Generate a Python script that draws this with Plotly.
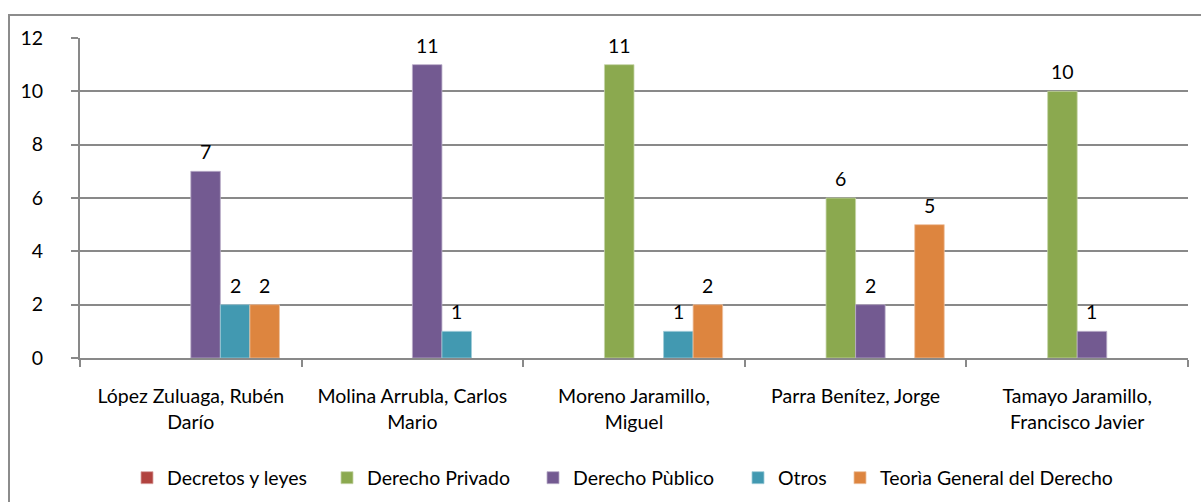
import plotly.graph_objects as go

categories = ["López Zuluaga, Rubén<br>Darío",
              "Molina Arrubla, Carlos<br>Mario",
              "Moreno Jaramillo,<br>Miguel",
              "Parra Benítez, Jorge",
              "Tamayo Jaramillo,<br>Francisco Javier"]

series_names = ["Decretos y leyes", "Derecho Privado", "Derecho Pùblico",
                "Otros", "Teorìa General del Derecho"]
decretos = [None, None, None, None, None]
privado = [None, None, 11, 6, 10]
publico = [7, 11, None, 2, 1]
otros = [2, 1, 1, None, None]
teoria = [2, None, 2, 5, None]
series_values = [decretos, privado, publico, otros, teoria]
colors = ["#B1433F", "#8BA94F", "#735A91", "#4299B1", "#DD853F"]
edge_colors = ["#D9A3A1", "#C5D4A7", "#B9ACC8", "#A0CCD8", "#EEC29F"]

FONT = "Lato, Carlito, Calibri, sans-serif"
FS = 19.5
W = 1 / 7.5          # bar width (gap width 150%, 6 slots)
slot_index = [1, 2, 3, 4, 5]   # slot 0 is an empty series

# legend text start positions (px) in the reference
legend_text_px = [164, 364, 570, 775, 877]
PL, PR, PT, PB = 80, 13, 38, 144
PW, PH = 1201 - PL - PR, 502 - PT - PB

fig = go.Figure()
for k, (name, vals) in enumerate(zip(series_names, series_values)):
    lg = "legend" if k == 0 else f"legend{k + 1}"
    fig.add_trace(go.Bar(
        x=categories, y=vals, name=name, legend=lg,
        marker=dict(color=colors[k], line=dict(color=edge_colors[k], width=0.8)),
        width=W, offset=(slot_index[k] - 3) * W,
    ))
    for i, v in enumerate(vals):
        if v is not None:
            fig.add_annotation(
                x=i + (slot_index[k] - 3) * W + W / 2, y=v, xref="x", yref="y",
                text=str(v), showarrow=False, yanchor="bottom", yshift=6,
                font=dict(family=FONT, size=FS, color="#000000"))
    fig.update_layout({lg: dict(
        orientation="h", x=(legend_text_px[k] - 37 - PL) / PW, xanchor="left",
        y=(PT + PH - 478) / PH, yanchor="middle",
        font=dict(family=FONT, size=FS, color="#000000"),
        itemclick=False, bgcolor="rgba(0,0,0,0)")})

grid = "#898989"
fig.update_layout(
    width=1201, height=502,
    margin=dict(l=PL, r=PR, t=PT, b=PB, autoexpand=False),
    paper_bgcolor="white", plot_bgcolor="white",
    barmode="overlay",
    font=dict(family=FONT, size=FS, color="#000000"),
    showlegend=True,
    xaxis=dict(type="category", showline=True, linecolor=grid, linewidth=2,
               ticks="outside", tickson="boundaries", ticklen=7, tickcolor=grid,
               tickwidth=2, showgrid=False, tickfont=dict(size=FS),
               range=[-0.5, 4.5], automargin=False, ticklabelstandoff=20),
    yaxis=dict(range=[0, 12], dtick=2, showline=True, linecolor=grid, linewidth=2,
               ticks="outside", ticklen=7, tickcolor=grid, tickwidth=2,
               showgrid=True, gridcolor=grid, gridwidth=2, zeroline=False,
               tickfont=dict(size=FS), ticklabelstandoff=24, automargin=False),
)
fig.add_shape(type="rect", xref="paper", yref="paper",
              x0=(9 - PL) / PW, x1=1.03, y0=-0.6, y1=(PT + PH - 15) / PH,
              line=dict(color="#8C8C8C", width=2), fillcolor="rgba(0,0,0,0)",
              layer="below")

fig.write_html("out.html", config={"displayModeBar": False},
               post_script="document.body.style.margin='0px';document.body.style.overflow='hidden';")
